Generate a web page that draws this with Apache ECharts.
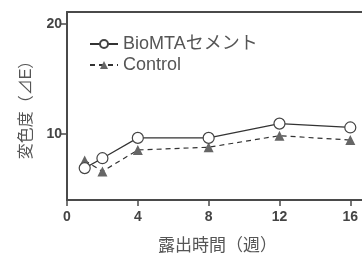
<!DOCTYPE html>
<html>
<head>
<meta charset="utf-8">
<script src="https://cdn.jsdelivr.net/npm/echarts@6/dist/echarts.min.js"></script>
<style>
  html, body { margin: 0; padding: 0; background: #fff; }
  #main { width: 362px; height: 256px; }
</style>
</head>
<body>
<div id="main"></div>
<script>
// 露出時間（週）
var weeks = [1, 2, 4, 8, 12, 16];
// 変色度 ΔE
var bioMTA = [6.9, 7.8, 9.65, 9.65, 10.95, 10.6];
var control = [7.6, 6.6, 8.55, 8.8, 9.85, 9.45];
var xTicks = [0, 4, 8, 12, 16];
var yTicks = [10, 20];

var FONT = '"Liberation Sans", "Noto Sans CJK JP", sans-serif';
var AXIS_COLOR = '#4a4a4a';

var chart = echarts.init(document.getElementById('main'));

function pairs(xs, ys) {
    return xs.map(function (x, i) { return [x, ys[i]]; });
}

chart.setOption({
    animation: false,
    // v6はラベルがはみ出さないようにgridを縮めるので止める
    grid: { left: 67, top: 12, bottom: 56, right: -6, outerBoundsMode: 'none', containLabel: false },
    legend: {
        orient: 'vertical',
        left: 84, top: 30,
        itemWidth: 28, itemHeight: 10, itemGap: 3,
        textStyle: { fontFamily: FONT, fontSize: 18, color: '#555' },
        data: ['BioMTAセメント', 'Control']
    },
    xAxis: [
        {
            type: 'value', min: 0, max: 17,
            name: '露出時間（週）', nameLocation: 'middle', nameGap: 38,
            nameTextStyle: { fontFamily: FONT, fontSize: 17, color: '#555' },
            splitLine: { show: false },
            axisLine: { show: true, lineStyle: { color: AXIS_COLOR, width: 2 } },
            axisTick: { show: true, length: 6, customValues: xTicks, lineStyle: { color: AXIS_COLOR, width: 1.5 } },
            axisLabel: { customValues: xTicks, margin: 10, fontFamily: FONT, fontSize: 14, fontWeight: 'bold', color: '#444' }
        },
        {
            // 上の枠線
            type: 'value', min: 0, max: 17, position: 'top',
            splitLine: { show: false },
            axisLine: { show: true, lineStyle: { color: AXIS_COLOR, width: 2 } },
            axisTick: { show: false },
            axisLabel: { show: false }
        }
    ],
    yAxis: {
        type: 'value', min: 4, max: 21.1,
        name: '変色度（⊿E）', nameLocation: 'middle', nameGap: 32, nameRotate: 90,
        nameTextStyle: { fontFamily: FONT, fontSize: 16, color: '#555' },
        splitLine: { show: false },
        axisLine: { show: true, lineStyle: { color: AXIS_COLOR, width: 2 } },
        axisTick: { show: true, length: 6, customValues: yTicks, lineStyle: { color: AXIS_COLOR, width: 1.5 } },
        axisLabel: { customValues: yTicks, margin: 5, fontFamily: FONT, fontSize: 14, fontWeight: 'bold', color: '#444' }
    },
    series: [
        {
            name: 'BioMTAセメント',
            type: 'line',
            data: pairs(weeks, bioMTA),
            symbol: 'circle', symbolSize: 11,
            lineStyle: { color: '#333', width: 1.2 },
            itemStyle: { color: '#fff', borderColor: '#444', borderWidth: 1.2 },
            z: 3
        },
        {
            name: 'Control',
            type: 'line',
            data: pairs(weeks, control),
            symbol: 'triangle', symbolSize: 10,
            lineStyle: { color: '#333', width: 1.2, type: [5, 4] },
            itemStyle: { color: '#666', borderColor: '#666', borderWidth: 0 },
            z: 2
        }
    ]
});
</script>
</body>
</html>
